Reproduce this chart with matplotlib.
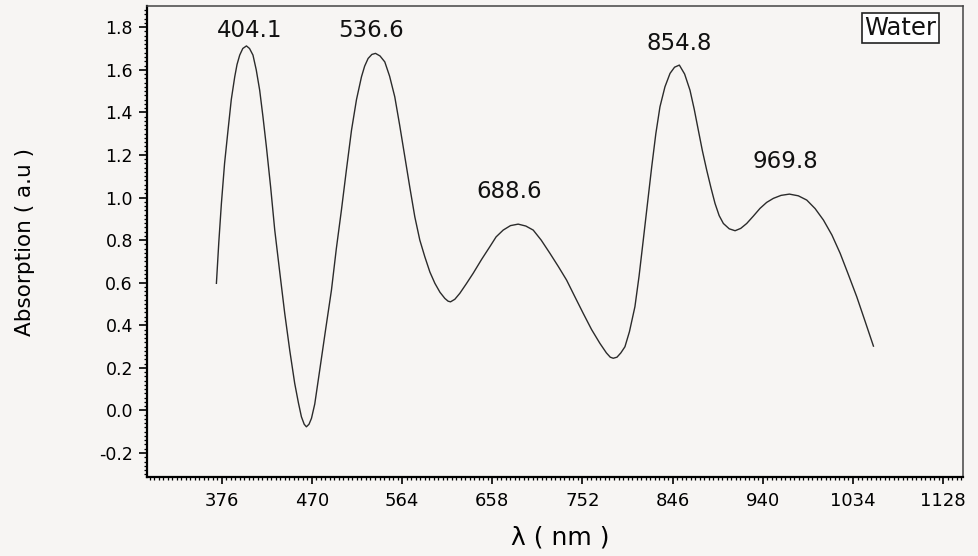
"""Absorption spectrum of the water sample with labelled peaks."""

import matplotlib
matplotlib.use("Agg")
import matplotlib.pyplot as plt
from matplotlib.ticker import AutoMinorLocator, FixedLocator, MultipleLocator

# spectrum (wavelength in nm, absorption in a.u.)
wavelength = [
    370.5, 373.0, 375.7, 379.0, 382.6, 386.0, 389.6, 392.0, 394.8, 398.0,
    401.8, 405.0, 408.6, 412.0, 415.6, 419.0, 422.6, 427.0, 431.3, 436.5,
    441.7, 447.0, 452.1, 456.0, 459.1, 462.0, 464.3, 467.0, 469.6, 473.0,
    478.2, 484.0, 490.4, 495.5, 500.8, 506.0, 511.3, 516.5, 521.7, 525.0,
    528.6, 532.5, 536.3, 541.0, 546.0, 551.0, 556.4, 561.5, 566.9, 572.0,
    577.3, 582.5, 587.7, 593.0, 598.2, 603.5, 608.6, 612.0, 614.5, 619.0,
    624.2, 631.0, 638.1, 647.0, 655.5, 662.0, 669.4, 677.0, 685.0, 693.0,
    700.7, 709.0, 718.1, 727.0, 735.5, 744.0, 752.8, 761.5, 770.2, 777.0,
    781.0, 784.1, 788.0, 792.0, 796.3, 801.0, 806.7, 811.0, 815.4, 820.0,
    824.2, 828.5, 832.8, 838.0, 843.3, 848.0, 853.0, 858.5, 864.1, 868.5,
    872.8, 877.0, 881.5, 886.0, 890.2, 894.5, 898.9, 905.0, 911.1, 917.0,
    923.2, 930.0, 937.1, 944.0, 951.0, 959.0, 967.7, 977.0, 985.8, 994.5,
    1003.2, 1012.0, 1020.6, 1029.0, 1037.9, 1046.5, 1055.3,
]
absorption = [
    0.597, 0.790, 0.972, 1.160, 1.316, 1.460, 1.567, 1.625, 1.669, 1.700,
    1.712, 1.700, 1.669, 1.600, 1.504, 1.380, 1.238, 1.050, 0.847, 0.650,
    0.456, 0.280, 0.127, 0.035, -0.030, -0.065, -0.077, -0.065, -0.037, 0.030,
    0.190, 0.370, 0.565, 0.760, 0.941, 1.130, 1.316, 1.460, 1.567, 1.617,
    1.653, 1.672, 1.677, 1.665, 1.637, 1.570, 1.473, 1.340, 1.191, 1.050,
    0.909, 0.800, 0.722, 0.650, 0.597, 0.555, 0.526, 0.513, 0.510, 0.522,
    0.550, 0.595, 0.644, 0.710, 0.769, 0.815, 0.847, 0.868, 0.875, 0.866,
    0.847, 0.800, 0.738, 0.675, 0.612, 0.535, 0.456, 0.380, 0.315, 0.270,
    0.250, 0.245, 0.250, 0.270, 0.299, 0.370, 0.487, 0.630, 0.800, 0.980,
    1.144, 1.300, 1.426, 1.520, 1.583, 1.612, 1.622, 1.580, 1.504, 1.415,
    1.316, 1.220, 1.129, 1.045, 0.972, 0.915, 0.878, 0.853, 0.844, 0.855,
    0.878, 0.912, 0.949, 0.977, 0.996, 1.010, 1.016, 1.008, 0.988, 0.948,
    0.894, 0.824, 0.738, 0.640, 0.534, 0.420, 0.302,
]

# peak annotations
peak_nm = [404.1, 536.6, 688.6, 854.8, 969.8]
peak_abs = [1.712, 1.677, 0.875, 1.622, 1.016]
# label offsets from each peak, in pixels
peak_dx = [1, -5, -12, -2, -6]
peak_dy = [9, 16, 26, 15, 26]

xticks = [376, 470, 564, 658, 752, 846, 940, 1034, 1128]
sample_name = "Water"

plt.rcParams["font.family"] = ["DejaVu Sans"]

fig = plt.figure(figsize=(9.79, 5.56), dpi=100, facecolor="#f7f5f3")
ax = fig.add_axes([0.150, 0.142, 0.834, 0.847])
ax.set_facecolor("none")

ax.plot(wavelength, absorption, color="#2b2b2b", lw=1.0)

for nm, a, dx, dy in zip(peak_nm, peak_abs, peak_dx, peak_dy):
    ax.annotate(f"{nm:.1f}", xy=(nm, a), xytext=(dx, dy),
                textcoords="offset pixels", ha="center", va="baseline",
                fontsize=16.5, color="#111111")

ax.text(0.923, 0.954, sample_name, transform=ax.transAxes, ha="center",
        va="center", fontsize=17.5, color="#111111",
        bbox=dict(boxstyle="square,pad=0.12", fc="white", ec="#222222", lw=1.2))

ax.set_xlim(298, 1149)
ax.set_ylim(-0.313, 1.899)
ax.xaxis.set_major_locator(FixedLocator(xticks))
ax.xaxis.set_minor_locator(AutoMinorLocator(20))
ax.yaxis.set_major_locator(MultipleLocator(0.2))
ax.yaxis.set_minor_locator(AutoMinorLocator(10))
ax.yaxis.set_major_formatter(plt.FuncFormatter(lambda v, p: f"{v:.1f}"))

ax.tick_params(axis="x", which="major", length=5, width=1.2, labelsize=13, pad=6)
ax.tick_params(axis="y", which="major", length=6, width=1.2, labelsize=12.5, pad=4)
ax.tick_params(which="minor", length=2.5, width=0.9)
ax.tick_params(top=False, right=False, which="both")

for side in ["left", "bottom"]:
    ax.spines[side].set_linewidth(1.6)
for side in ["top", "right"]:
    ax.spines[side].set_linewidth(1.1)
    ax.spines[side].set_color("#444444")

ax.set_xlabel("λ ( nm )", fontsize=18)
ax.set_ylabel("Absorption ( a.u )", fontsize=15.5)
ax.xaxis.set_label_coords(0.506, -0.102)
ax.yaxis.set_label_coords(-0.137, 0.5)

fig.savefig("out.png", dpi=100, facecolor=fig.get_facecolor())
